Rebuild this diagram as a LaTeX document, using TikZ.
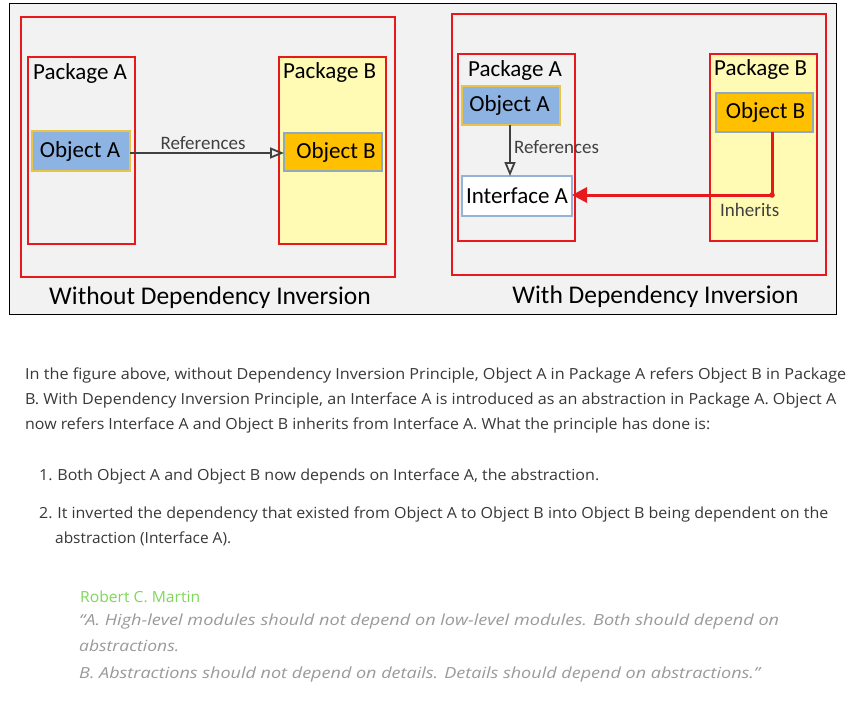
\documentclass[tikz,border=0pt]{standalone}
\usepackage{fontspec}
\usepackage{graphicx}
\setmainfont{Carlito}
\newfontfamily\bodyfont{Open Sans}
\usetikzlibrary{arrows.meta}
\definecolor{frame}{HTML}{F2F2F2}
\definecolor{redline}{HTML}{E8191C}
\definecolor{pkgyellow}{HTML}{FFFBB4}
\definecolor{objblue}{HTML}{8DB3E2}
\definecolor{objblueborder}{HTML}{E8C547}
\definecolor{objorange}{HTML}{FFC000}
\definecolor{objorangeborder}{HTML}{8FA9BF}
\definecolor{ifaceborder}{HTML}{95B3D7}
\definecolor{arrowgray}{HTML}{404040}
\definecolor{bodytext}{HTML}{383838}
\definecolor{quotegray}{HTML}{9A9A9A}
\definecolor{greenname}{HTML}{80D65A}
\newcommand\fitline[2]{\resizebox{#1}{\height}{#2}}
\tikzset{
  box/.style={draw, anchor=north west, inner sep=0pt, outer sep=0pt},
  outerbox/.style={box, draw=redline, line width=1.5pt},
  pkgbox/.style={box, draw=redline, line width=1.5pt},
  objA/.style={box, draw=objblueborder, fill=objblue, line width=1.5pt},
  objB/.style={box, draw=objorangeborder, fill=objorange, line width=1.5pt},
  iface/.style={box, draw=ifaceborder, fill=white, line width=1.2pt},
  objtext/.style={inner sep=0pt, font=\fontsize{23}{27}\selectfont},
  pkglabel/.style={anchor=base west, inner sep=0pt, font=\fontsize{23}{27}\selectfont},
  arrlabel/.style={anchor=base, inner sep=0pt, text=arrowgray, font=\fontsize{19}{22}\selectfont},
  caption/.style={anchor=base, inner sep=0pt, font=\fontsize{25.5}{30}\selectfont},
  refarrow/.style={draw=arrowgray, line width=2pt, -{Triangle[open, length=14pt, width=11pt, line width=1.8pt]}},
  inhpath/.style={draw=redline, line width=3pt},
  inharrow/.style={draw=redline, line width=3pt, -{Triangle[length=15pt, width=15pt]}},
  body/.style={anchor=base west, inner sep=0pt, text=bodytext, font=\bodyfont\fontsize{15.3}{18}\selectfont},
  quote/.style={anchor=base west, inner sep=0pt, text=quotegray, font=\bodyfont\itshape\fontsize{15.3}{18}\selectfont},
}
\begin{document}
\begin{tikzpicture}[x=1pt,y=-1pt]
\useasboundingbox (0,0) rectangle (856,704);
\fill[white] (0,0) rectangle (856,704);
% frame
\draw[fill=frame, line width=1pt] (9,3) rectangle (836,314);

% ---- left diagram ----
\node[outerbox, minimum width=374pt, minimum height=260pt] (lout) at (21,17) {};
\node[pkgbox, minimum width=107pt, minimum height=187pt] (lpa) at (28,57) {};
\node[pkgbox, fill=pkgyellow, minimum width=107pt, minimum height=187pt] (lpb) at (279,57) {};
\node[pkglabel] (lpal) at (33,79) {Package A};
\node[pkglabel] (lpbl) at (283,78) {Package B};
\node[objA, minimum width=98pt, minimum height=40pt] (loa) at (32,131) {};
\node[objtext] at ([xshift=-1pt]loa.center) (loat) {Object A};
\node[objB, minimum width=98pt, minimum height=38pt] (lob) at (284,133) {};
\node[objtext] at ([xshift=3pt]lob.center) (lobt) {Object B};
\draw[refarrow] (loa.east |- 0,153) -- (lob.west |- 0,153);
\node[arrlabel] (lref) at (203,149) {References};
\node[caption] (lcap) at (210,304) {Without Dependency Inversion};

% ---- right diagram ----
\node[outerbox, minimum width=374pt, minimum height=261pt] (rout) at (452,14) {};
\node[pkgbox, minimum width=117pt, minimum height=187pt] (rpa) at (458,54) {};
\node[pkgbox, fill=pkgyellow, minimum width=107pt, minimum height=187pt] (rpb) at (710,54) {};
\node[pkglabel] (rpal) at (468,76) {Package A};
\node[pkglabel] (rpbl) at (714,75) {Package B};
\node[objA, minimum width=98pt, minimum height=39pt] (roa) at (462,86) {};
\node[objtext] at ([xshift=-1.5pt]roa.center) (roat) {Object A};
\node[iface, minimum width=110pt, minimum height=40pt] (ria) at (462,176) {};
\node[objtext] at (ria.center) (riat) {Interface A};
\node[objB, minimum width=97pt, minimum height=39pt] (rob) at (716,93) {};
\node[objtext] at ([xshift=1pt]rob.center) (robt) {Object B};
\draw[refarrow] (roa.south -| 510,0) -- (ria.north -| 510,0);
\node[arrlabel, anchor=base west] (rref) at (514,153) {References};
\coordinate (corner) at (772,195);
\draw[inhpath] (rob.south -| corner) -- (corner);
\draw[inharrow] (corner) -- (ria.east |- corner);
\fill[redline] (corner) circle (2.8pt);
\node[arrlabel, anchor=base west] (inh) at (720,216) {Inherits};
\node[caption] (rcap) at (655.5,303) {With Dependency Inversion};

% ---- text ----
\node[body] (p1) at (25,379) {\fitline{821pt}{In the figure above, without Dependency Inversion Principle, Object A in Package A refers Object B in Package}};
\node[body] (p2) at (25,404) {\fitline{811pt}{B. With Dependency Inversion Principle, an Interface A is introduced as an abstraction in Package A. Object A}};
\node[body] (p3) at (25,429) {\fitline{685pt}{now refers Interface A and Object B inherits from Interface A. What the principle has done is:}};
\node[body] (l1) at (39,480) {\fitline{560pt}{1.\hspace{4.5pt}Both Object A and Object B now depends on Interface A, the abstraction.}};
\node[body] (l2) at (39,518) {\fitline{789pt}{2.\hspace{4.5pt}It inverted the dependency that existed from Object A to Object B into Object B being dependent on the}};
\node[body] (l3) at (55,543) {\fitline{176pt}{abstraction (Interface A).}};
\node[body, text=greenname] (rcm) at (80,602) {\fitline{120pt}{Robert C. Martin}};
\node[quote] (q1) at (79,625) {\fitline{700pt}{“A. High-level modules should not depend on low-level modules. Both should depend on}};
\node[quote] (q2) at (79,651) {\fitline{100pt}{abstractions.}};
\node[quote] (q3) at (79,678) {\fitline{681pt}{B. Abstractions should not depend on details. Details should depend on abstractions.”}};
\end{tikzpicture}
\end{document}
